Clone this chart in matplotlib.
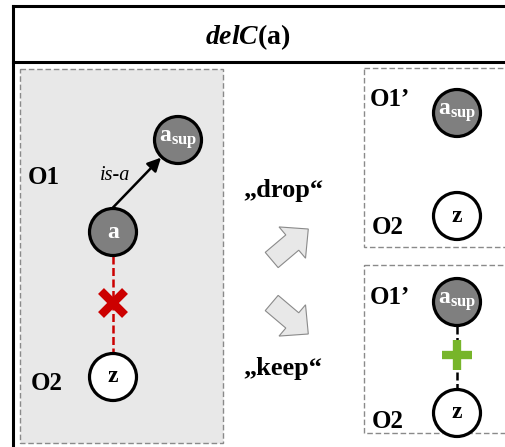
import matplotlib
matplotlib.use("Agg")
import matplotlib.pyplot as plt
import numpy as np
from matplotlib.patches import Circle, Rectangle, FancyArrow, FancyArrowPatch

plt.rcParams["font.family"] = ["Liberation Serif", "DejaVu Serif"]
plt.rcParams["mathtext.fontset"] = "custom"
plt.rcParams["mathtext.rm"] = "Liberation Serif:bold"
plt.rcParams["mathtext.bf"] = "Liberation Serif:bold"
plt.rcParams["mathtext.it"] = "Liberation Serif:italic:bold"

W, H = 506, 447

TITLE = r"$\mathit{delC}\mathbf{(a)}$"
ASUP = r"$\mathbf{a}_{\mathbf{sup}}$"

# panels (left: before, right top: "drop", right bottom: "keep")
PANEL_X0 = [20, 364, 364]
PANEL_Y0 = [69, 68, 265]
PANEL_X1 = [223, 530, 530]
PANEL_Y1 = [443, 247, 433]
PANEL_FILL = ["#e8e8e8", "white", "white"]

# concept nodes
NODE_X = [178, 113, 113, 457, 457, 457, 457]
NODE_Y = [140, 232, 377, 113, 216, 302, 413]
NODE_LABEL = [ASUP, "a", "z", ASUP, "z", ASUP, "z"]
NODE_DARK = [True, True, False, True, False, True, False]
R = 23.5

# ontology labels
ONT_LABELS = ["O1", "O2", "O1\u2019", "O2", "O1\u2019", "O2"]
ONT_X = [44, 47, 390, 388, 390, 388]
ONT_Y = [178, 383, 100, 228, 298, 422]

# the two options
CHOICES = ["\u201edrop\u201c", "\u201ekeep\u201c"]
CHOICE_Y = [191, 369]
SWITCH_TAIL = [(271.7, 260), (271.7, 303)]
SWITCH_TIP = [(308.3, 229), (308.3, 334)]

fig = plt.figure(figsize=(W / 100, H / 100), dpi=100)
ax = fig.add_axes([0, 0, 1, 1])
ax.set_xlim(0, W)
ax.set_ylim(H, 0)
ax.axis("off")

# outer frame
ax.plot([13, 13], [6, H + 20], color="black", lw=2.2, solid_capstyle="projecting")
ax.plot([13, W + 20], [6, 6], color="black", lw=2.2)
ax.plot([13, W + 20], [61.5, 61.5], color="black", lw=2.2)
ax.text(248, 37, TITLE, ha="center", va="center", fontsize=20)

for x0, y0, x1, y1, fc in zip(PANEL_X0, PANEL_Y0, PANEL_X1, PANEL_Y1, PANEL_FILL):
    ax.add_patch(Rectangle((x0, y0), x1 - x0, y1 - y0, facecolor=fc,
                           edgecolor="#8a8a8a", lw=1.0, ls=(0, (4, 2))))

# removed mapping (red) and kept mapping (black)
ax.plot([NODE_X[1], NODE_X[2]], [NODE_Y[1] + R, NODE_Y[2] - R], color="#cc0000",
        lw=1.8, dashes=(3.2, 1.4))
ax.plot([NODE_X[5], NODE_X[6]], [NODE_Y[5] + R, NODE_Y[6] - R], color="black",
        lw=1.8, dashes=(3.2, 1.4))

# red cross
cx, cy, s = NODE_X[1], 303, 12
ax.plot([cx - s, cx + s], [cy - s, cy + s], color="#cc0000", lw=6, solid_capstyle="butt")
ax.plot([cx - s, cx + s], [cy + s, cy - s], color="#cc0000", lw=6, solid_capstyle="butt")
# green plus
px, py, s = NODE_X[5], 355, 15
ax.plot([px - s, px + s], [py, py], color="#77b52a", lw=6, solid_capstyle="butt")
ax.plot([px, px], [py - s, py + s], color="#77b52a", lw=6, solid_capstyle="butt")

# is-a arrow
start = np.array([NODE_X[1], NODE_Y[1] - R - 1])
cen = np.array([NODE_X[0], NODE_Y[0]])
d = cen - start
end = cen - d / np.linalg.norm(d) * (R + 1)
ax.add_patch(FancyArrowPatch(tuple(start), tuple(end), arrowstyle="-|>",
                             mutation_scale=20, lw=1.8, color="black",
                             shrinkA=0, shrinkB=0))
ax.text(115, 175, "is-a", ha="center", va="center", fontsize=14.5, fontstyle="italic")

for x, y, lab, dark in zip(NODE_X, NODE_Y, NODE_LABEL, NODE_DARK):
    ax.add_patch(Circle((x, y), R, facecolor="#7f7f7f" if dark else "white",
                        edgecolor="black", lw=2.3, zorder=3))
    ax.text(x, y, lab, ha="center", va="center", fontsize=17, fontweight="bold",
            color="white" if dark else "black", zorder=4)

for lab, x, y in zip(ONT_LABELS, ONT_X, ONT_Y):
    ax.text(x, y, lab, ha="center", va="center", fontsize=18, fontweight="bold")

for lab, y in zip(CHOICES, CHOICE_Y):
    ax.text(283, y, lab, ha="center", va="center", fontsize=19, fontweight="bold")

for (tx, ty), (hx, hy) in zip(SWITCH_TAIL, SWITCH_TIP):
    ax.add_patch(FancyArrow(tx, ty, hx - tx, hy - ty, width=20, head_width=41,
                            head_length=21, length_includes_head=True,
                            facecolor="#e8e8e8", edgecolor="#8a8a8a", lw=0.8))

fig.savefig("out.png", dpi=100)
